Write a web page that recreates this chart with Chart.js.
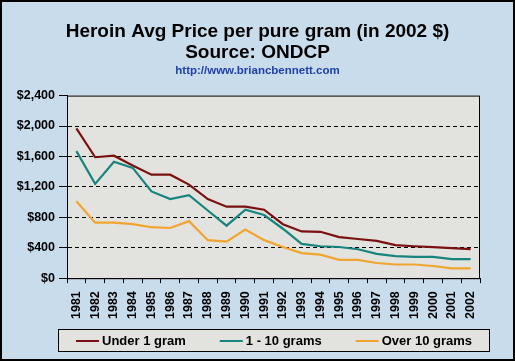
<!DOCTYPE html>
<html>
<head>
<meta charset="utf-8">
<script src="https://cdn.jsdelivr.net/npm/chart.js@4"></script>
<style>
  body { margin: 0; background: #c9dceb; }
  canvas { display: block; }
</style>
</head>
<body>
<canvas id="chartHeroin" width="515" height="361"></canvas>
<script>
var years = ['1981', '1982', '1983', '1984', '1985', '1986', '1987', '1988', '1989', '1990', '1991',
             '1992', '1993', '1994', '1995', '1996', '1997', '1998', '1999', '2000', '2001', '2002'];
var under1 = [1970, 1590, 1610, 1480, 1360, 1360, 1230, 1040, 940, 940, 900,
              710, 615, 610, 540, 515, 490, 435, 420, 408, 395, 382];
var oneTo10 = [1670, 1240, 1530, 1450, 1140, 1040, 1090, 890, 690, 900, 830,
               650, 450, 420, 410, 380, 320, 290, 280, 280, 250, 250];
var over10 = [1010, 730, 730, 710, 670, 660, 750, 500, 480, 640, 500,
              410, 330, 310, 240, 240, 200, 180, 180, 160, 130, 130];
var yTicks = [0, 400, 800, 1200, 1600, 2000, 2400];

var FONT = 'Liberation Sans, Arial, sans-serif';

// page background, plot frame, legend box with the dataset lines
var framePlugin = {
  id: 'framePlugin',
  beforeDraw: function(chart) {
    var c = chart.ctx, a = chart.chartArea;
    c.save();
    c.fillStyle = '#c8dcec';
    c.fillRect(0, 0, chart.width, chart.height);
    c.fillStyle = '#e2e2df';
    c.fillRect(a.left, a.top, a.right - a.left, a.bottom - a.top);
    c.fillRect(58, 329, 432, 23);
    c.restore();
  },
  afterDraw: function(chart) {
    var c = chart.ctx, a = chart.chartArea;
    c.save();
    c.strokeStyle = '#000';
    c.lineWidth = 1;
    c.strokeRect(a.left + 0.5, a.top + 0.5, a.right - a.left - 1, a.bottom - a.top);
    c.strokeRect(58.5, 329.5, 431, 22);
    // legend items
    c.font = 'bold 13px ' + FONT;
    c.textBaseline = 'middle';
    var sets = chart.data.datasets, lineW = 23, gap = 34, total = 0;
    sets.forEach(function(d) { total += lineW + 3 + c.measureText(d.label).width; });
    total += gap * (sets.length - 1);
    var x = 58 + (432 - total) / 2, y = 341;
    sets.forEach(function(d) {
      c.strokeStyle = d.borderColor;
      c.lineWidth = 2;
      c.beginPath();
      c.moveTo(x, y);
      c.lineTo(x + lineW, y);
      c.stroke();
      c.fillStyle = '#000';
      c.fillText(d.label, x + lineW + 3, y);
      x += lineW + 3 + c.measureText(d.label).width + gap;
    });
    c.lineWidth = 2;
    c.strokeStyle = '#000';
    c.strokeRect(1, 1, chart.width - 2, chart.height - 2);
    c.restore();
  }
};

var ctx = document.getElementById('chartHeroin').getContext('2d');
var chartHeroin = new Chart(ctx, {
  type: 'line',
  data: {
    labels: years,
    datasets: [{
      label: 'Under 1 gram',
      borderColor: '#7b1010',
      backgroundColor: '#7b1010',
      data: under1,
      borderWidth: 2.2
    }, {
      label: '1 - 10 grams',
      borderColor: '#17857d',
      backgroundColor: '#17857d',
      data: oneTo10,
      borderWidth: 2.2
    }, {
      label: 'Over 10 grams',
      borderColor: '#f2a52e',
      backgroundColor: '#f2a52e',
      data: over10,
      borderWidth: 2.2
    }]
  },
  options: {
    responsive: false,
    animation: false,
    layout: { padding: { left: 10, right: 10, top: 0, bottom: 34 } },
    elements: { point: { radius: 0 }, line: { tension: 0 } },
    plugins: {
      title: {
        display: true,
        text: ['Heroin Avg Price per pure gram (in 2002 $)', 'Source: ONDCP'],
        color: '#000',
        font: { family: FONT, size: 19, weight: 'bold', lineHeight: 1.1 },
        padding: { top: 21, bottom: 1 }
      },
      subtitle: {
        display: true,
        text: 'http://www.briancbennett.com',
        color: '#2040b0',
        font: { family: FONT, size: 11.5, weight: 'bold', lineHeight: 1.2 },
        padding: { top: 0, bottom: 18 }
      },
      legend: { display: false },
      tooltip: { enabled: false }
    },
    scales: {
      x: {
        offset: true,
        grid: { offset: true, drawOnChartArea: false, drawTicks: true, tickLength: 5, color: '#000' },
        border: { color: '#000' },
        ticks: {
          color: '#000',
          maxRotation: 90,
          minRotation: 90,
          autoSkip: false,
          padding: 8,
          font: { family: FONT, size: 12.5, weight: 'bold' }
        }
      },
      y: {
        min: 0,
        max: 2400,
        afterBuildTicks: function(axis) {
          axis.ticks = yTicks.map(function(v) { return { value: v }; });
        },
        afterFit: function(axis) { axis.width = 57; },
        grid: {
          color: function(c) {
            return (c.tick && (c.tick.value === 0 || c.tick.value === 2400)) ? 'rgba(0,0,0,0)' : '#000';
          },
          tickColor: '#000',
          tickLength: 8
        },
        border: { color: '#000', dash: [4, 3] },
        ticks: {
          color: '#000',
          padding: 4,
          font: { family: FONT, size: 12.5, weight: 'bold' },
          callback: function(v) { return '$' + v.toLocaleString('en-US'); }
        }
      },
      yRight: {
        position: 'right',
        display: true,
        grid: { display: false },
        border: { display: false },
        ticks: { display: false },
        afterFit: function(axis) { axis.width = 25; }
      }
    }
  },
  plugins: [framePlugin]
});
</script>
</body>
</html>
